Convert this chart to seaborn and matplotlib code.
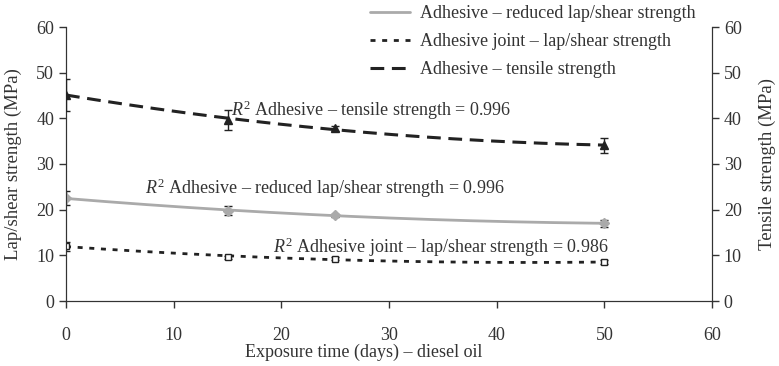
import numpy as np
import matplotlib
matplotlib.use("Agg")
import matplotlib.pyplot as plt
import seaborn as sns

sns.set_style("ticks")
plt.rcParams["font.family"] = ["Liberation Serif", "DejaVu Serif"]
plt.rcParams["mathtext.fontset"] = "custom"
plt.rcParams["mathtext.rm"] = "Liberation Serif"
plt.rcParams["mathtext.it"] = "Liberation Serif:italic"

# exposure time (days) - diesel oil
days = [0, 15, 25, 50]
# adhesive - reduced lap/shear strength (MPa)
reduced_lap = [22.5, 19.8, 18.8, 17.0]
reduced_lap_err = [1.5, 1.0, 0.3, 0.8]
# adhesive joint - lap/shear strength (MPa)
joint_lap = [12.0, 9.6, 9.3, 8.5]
joint_lap_err = [1.0, 0.3, 0.3, 0.5]
# adhesive - tensile strength (MPa)
tensile = [45.2, 39.7, 37.8, 34.1]
tensile_err = [3.5, 2.2, 0.5, 1.6]

r2_reduced = 0.996
r2_joint = 0.986
r2_tensile = 0.996

gray = "#aaaaaa"
dark = "#222222"
txt = "#333333"
fs = 13

fig = plt.figure(figsize=(7.79, 3.66), dpi=100)
ax = fig.add_axes([66 / 779, 1 - 301 / 366, (712 - 66) / 779, (301 - 27) / 366])
ax2 = ax.twinx()

t = np.linspace(0, 50, 200)


def trend(y):
    # excel style 2nd order trend line through the measured points
    return np.polyval(np.polyfit(days, y, 2), t)


sns.lineplot(x=t, y=trend(reduced_lap), ax=ax, color=gray, lw=2,
             label="Adhesive \u2013 reduced lap/shear strength", legend=False)
sns.lineplot(x=t, y=trend(joint_lap), ax=ax, color=dark, lw=2,
             label="Adhesive joint \u2013 lap/shear strength", legend=False)
ax.lines[-1].set_dashes([1.8, 2.4])
sns.lineplot(x=t, y=trend(tensile), ax=ax2, color=dark, lw=2.2,
             label="Adhesive \u2013 tensile strength", legend=False)
ax2.lines[-1].set_dashes([4.5, 2.5])

ax.errorbar(days, reduced_lap, yerr=reduced_lap_err, fmt="D", ms=5, color=gray,
            ecolor=dark, elinewidth=1, capsize=3, zorder=5)
ax.errorbar(days, joint_lap, yerr=joint_lap_err, fmt="s", ms=5, mfc="white",
            mec=dark, ecolor=dark, elinewidth=1, capsize=3, zorder=5)
ax2.errorbar(days, tensile, yerr=tensile_err, fmt="^", ms=6, color=dark,
             ecolor=dark, elinewidth=1, capsize=3, zorder=5)

for a in (ax, ax2):
    a.set_xlim(0, 60)
    a.set_ylim(0, 60)
    a.set_yticks(range(0, 61, 10))
    a.tick_params(direction="out", length=5, width=1, labelsize=fs, colors=txt)
    for s in a.spines.values():
        s.set_color(txt)
    a.spines["top"].set_visible(False)
ax.set_xticks(range(0, 61, 10))
ax.tick_params(axis="x", pad=14)
ax2.spines["right"].set_visible(True)

ax.set_ylabel("Lap/shear strength (MPa)", fontsize=13.5, color=txt, va="center")
ax.yaxis.set_label_coords(-0.082, 0.5)
ax2.set_ylabel("Tensile strength (MPa)", fontsize=13.5, color=txt, va="center")
ax2.yaxis.set_label_coords(1.085, 0.5)
ax.set_xlabel("Exposure time (days) \u2013 diesel oil", fontsize=fs, color=txt, va="center")
ax.xaxis.set_label_coords(0.461, -0.186)

r2 = r"$\it{R}^2$ "
ax.text(15.3, 40.5, r2 + f"Adhesive \u2013 tensile strength = {r2_tensile}",
        fontsize=fs, color=txt)
ax.text(7.3, 23.4, r2 + f"Adhesive \u2013 reduced lap/shear strength = {r2_reduced}",
        fontsize=fs, color=txt)
ax.text(19.2, 10.5, r2 + f"Adhesive joint \u2013 lap/shear strength = {r2_joint}",
        fontsize=fs, color=txt)

handles = ax.get_lines()[:2] + [ax2.get_lines()[0]]
fig.legend(handles, [h.get_label() for h in handles], loc="upper left",
           bbox_to_anchor=(354 / 779, 1.03), frameon=False, fontsize=fs,
           handlelength=2.2, handletextpad=0.55, labelspacing=0.6, labelcolor=txt)

fig.savefig("out.png", dpi=100)
